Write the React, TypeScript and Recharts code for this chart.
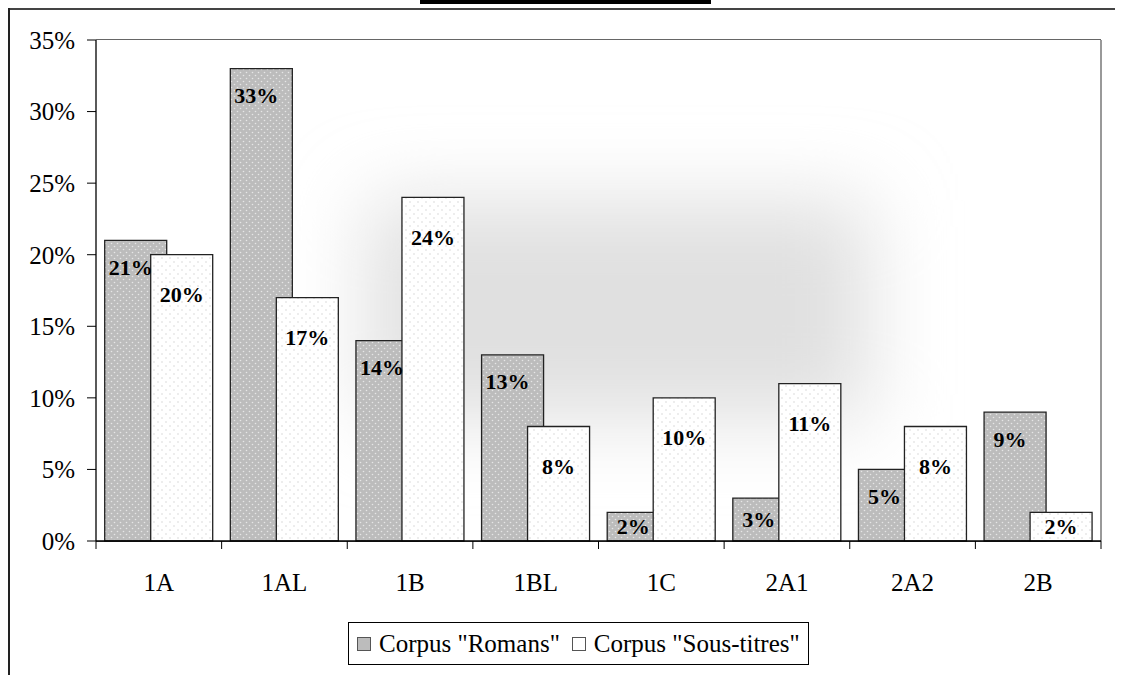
import React from 'react';
import { BarChart, Bar, XAxis, YAxis, CartesianGrid, ReferenceArea, LabelList } from 'recharts';

const categories = ['1A', '1AL', '1B', '1BL', '1C', '2A1', '2A2', '2B'];
const romans = [21, 33, 14, 13, 2, 3, 5, 9];
const sousTitres = [20, 17, 24, 8, 10, 11, 8, 2];
const yTicks = [0, 5, 10, 15, 20, 25, 30, 35];
const seriesNames = ['Corpus "Romans"', 'Corpus "Sous-titres"'];

const data = categories.map((c, i) => ({ cat: c, romans: romans[i], sous: sousTitres[i] }));

const FONT = '"Liberation Serif", "Times New Roman", serif';

const Background = (props: any) => {
  const { x, y, width, height } = props;
  return (
    <g>
      <defs>
        <pattern id="patRomans" width="6" height="6" patternUnits="userSpaceOnUse">
          <rect width="6" height="6" fill="#bcbcbc" />
          <circle cx="1.5" cy="1.5" r="0.8" fill="#e6e6e6" />
          <circle cx="4.5" cy="4.5" r="0.8" fill="#e6e6e6" />
        </pattern>
        <pattern id="patSous" width="8" height="8" patternUnits="userSpaceOnUse">
          <rect width="8" height="8" fill="#ffffff" />
          <circle cx="2" cy="2" r="0.7" fill="#cfcfcf" />
          <circle cx="6" cy="6" r="0.7" fill="#cfcfcf" />
        </pattern>
        <filter id="blurBg" filterUnits="userSpaceOnUse" x={x} y={y} width={width} height={height}>
          <feGaussianBlur stdDeviation="40" />
        </filter>
      </defs>
      <rect x={x} y={y} width={width} height={height} fill="#ffffff" />
      <rect
        x={x + width * 0.27}
        y={y + height * 0.32}
        width={width * 0.5}
        height={height * 0.44}
        fill="#e0e0e0"
        filter="url(#blurBg)"
      />
      <line x1={x + width} x2={x + width} y1={y} y2={y + height} stroke="#999" strokeWidth={2} />
    </g>
  );
};

const XTick = (props: any) => {
  const { x, y, payload, index, width } = props;
  const half = payload && payload.offset ? payload.offset : width / categories.length / 2;
  const axisY = y - 9;
  return (
    <g>
      <line x1={x - half} x2={x - half} y1={axisY} y2={axisY + 8} stroke="#000" />
      {index === categories.length - 1 && (
        <line x1={x + half} x2={x + half} y1={axisY} y2={axisY + 8} stroke="#000" />
      )}
      <text x={x} y={axisY + 50} textAnchor="middle" fontSize={25} fontFamily={FONT} fill="#000">
        {payload.value}
      </text>
    </g>
  );
};

const makeLabel = (kind: 'romans' | 'sous') => (props: any) => {
  const { x, y, width, height, value } = props;
  const cx = kind === 'romans' ? x + (width - 16) / 2 + 3 : x + width / 2;
  const dy = Math.min(kind === 'romans' ? 27 : 40, height / 2);
  return (
    <text
      x={cx}
      y={y + dy}
      textAnchor="middle"
      dominantBaseline="central"
      fontSize={22}
      fontWeight="bold"
      fontFamily={FONT}
      fill="#000"
    >
      {value}%
    </text>
  );
};

const LegendBox = () => (
  <div
    style={{
      position: 'absolute',
      left: 340,
      top: 614,
      width: 451,
      height: 41,
      border: '1px solid #000',
      display: 'flex',
      alignItems: 'center',
      fontFamily: FONT,
      fontSize: 25,
      color: '#000',
      paddingLeft: 8,
      boxSizing: 'content-box',
      whiteSpace: 'nowrap',
    }}
  >
    <span style={{ width: 12, height: 12, border: '1px solid #555', background: '#bcbcbc', display: 'inline-block', marginRight: 8 }} />
    <span>{seriesNames[0]}</span>
    <span style={{ width: 12, height: 12, border: '1px solid #555', background: '#fff', display: 'inline-block', marginLeft: 12, marginRight: 8 }} />
    <span>{seriesNames[1]}</span>
  </div>
);

export default function App() {
  return (
    <div style={{ position: 'relative', width: 1115, height: 667 }}>
      <BarChart
        width={1115}
        height={667}
        data={data}
        margin={{ top: 32, right: 22, left: 0, bottom: 74 }}
        barCategoryGap={8.7}
        barGap={-16}
      >
        <ReferenceArea y1={0} y2={35} shape={Background} ifOverflow="visible" />
        <CartesianGrid vertical={false} stroke="#333" strokeWidth={1.3} />
        <XAxis
          dataKey="cat"
          height={60}
          tickLine={false}
          tickSize={7}
          tickMargin={2}
          axisLine={{ stroke: '#000', strokeWidth: 1.3 }}
          tick={<XTick />}
          interval={0}
        />
        <YAxis
          width={88}
          domain={[0, 35]}
          ticks={yTicks}
          tickFormatter={(v: number) => `${v}%`}
          tickSize={9}
          tickMargin={12}
          axisLine={{ stroke: '#000', strokeWidth: 1.3 }}
          tickLine={{ stroke: '#000' }}
          tick={{ fontSize: 25, fontFamily: FONT, fill: '#000' }}
        />
        <Bar dataKey="romans" name={seriesNames[0]} fill="url(#patRomans)" stroke="#222" strokeWidth={1.3} isAnimationActive={false}>
          <LabelList dataKey="romans" content={makeLabel('romans')} />
        </Bar>
        <Bar dataKey="sous" name={seriesNames[1]} fill="url(#patSous)" stroke="#222" strokeWidth={1.3} isAnimationActive={false}>
          <LabelList dataKey="sous" content={makeLabel('sous')} />
        </Bar>
      </BarChart>
      <LegendBox />
      <div style={{ position: 'absolute', left: 0, top: 0, width: 1115, height: 2, background: '#444', zIndex: 5 }} />
      <div style={{ position: 'absolute', left: 0, top: 0, width: 2, height: 667, background: '#222', zIndex: 5 }} />
      <div style={{ position: 'fixed', left: 420, top: 0, width: 291, height: 4, background: '#000', zIndex: 10 }} />
    </div>
  );
}
